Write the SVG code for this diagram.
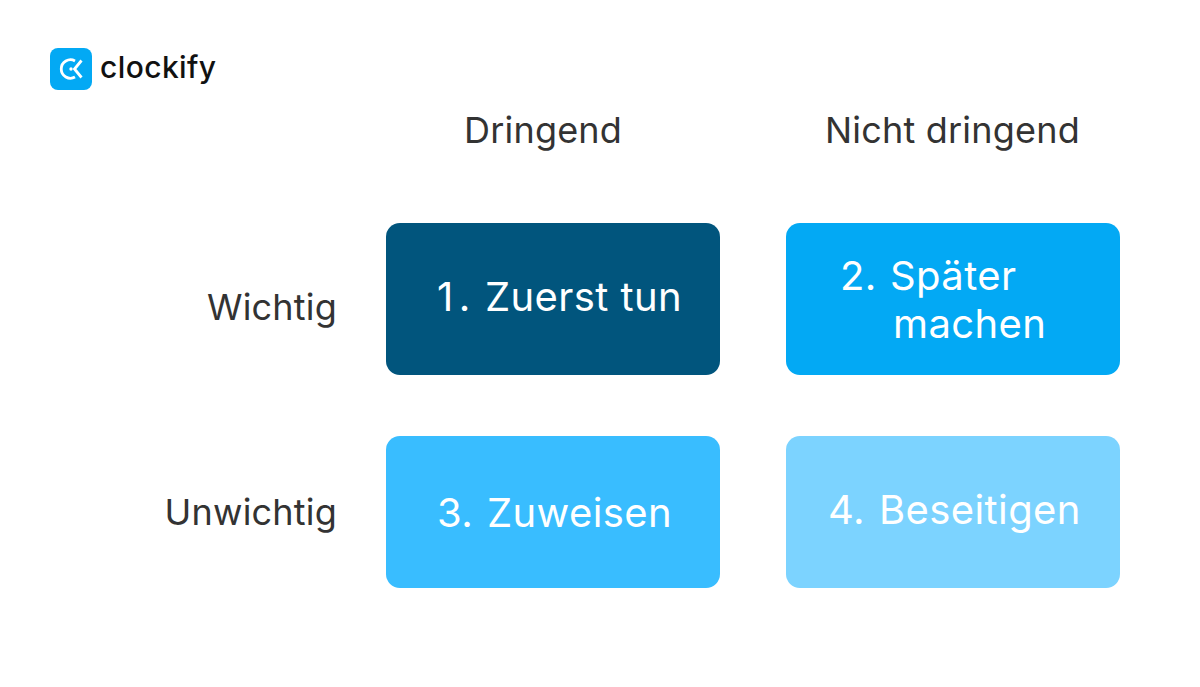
<svg xmlns="http://www.w3.org/2000/svg" width="1200" height="687" viewBox="0 0 1200 687">
<style>
text{font-family:Inter,"Liberation Sans",sans-serif}
.h{font-size:36px;fill:#333333;letter-spacing:.2px;font-weight:420}
.w{font-size:40px;fill:#ffffff;letter-spacing:.4px}
</style>
<rect width="1200" height="687" fill="#ffffff"/>
<g id="logo">
<rect x="50" y="48" width="42" height="42" rx="8" fill="#03a9f4"/>
<path d="M75 61A9.200 9.200 0 1 0 75 77" fill="none" stroke="#fff" stroke-width="2.800"/>
<path d="M81.500 60.500L74.500 69L81.500 77.500" fill="none" stroke="#fff" stroke-width="2.800"/>
<circle cx="71" cy="69" r="1.700" fill="#fff"/>
<text x="100" y="78" font-size="30" font-weight="530" letter-spacing=".4" fill="#111111">clockify</text>
</g>
<g id="col1"><text class="h" x="464" y="143">Dringend</text></g>
<g id="col2"><text class="h" x="825" y="143">Nicht dringend</text></g>
<g id="row1"><text class="h" x="337" y="320" text-anchor="end">Wichtig</text></g>
<g id="row2"><text class="h" x="337" y="525" text-anchor="end">Unwichtig</text></g>
<g id="q1"><rect x="386" y="223" width="334" height="152" rx="14" fill="#01557d"/><text class="w" x="437" y="311">1<tspan dx="5">.</tspan><tspan x="485">Zuerst tun</tspan></text></g>
<g id="q2"><rect x="786" y="223" width="334" height="152" rx="14" fill="#03a9f4"/><text class="w" x="840" y="290">2. <tspan x="890">Später</tspan></text><text class="w" x="893" y="338">machen</text></g>
<g id="q3"><rect x="386" y="436" width="334" height="152" rx="14" fill="#39bdff"/><text class="w" x="437" y="527">3.<tspan x="487">Zuweisen</tspan></text></g>
<g id="q4"><rect x="786" y="436" width="334" height="152" rx="14" fill="#7cd3ff"/><text class="w" x="828" y="524">4.<tspan x="879">Beseitigen</tspan></text></g>
<g id="connectors"></g>
</svg>
